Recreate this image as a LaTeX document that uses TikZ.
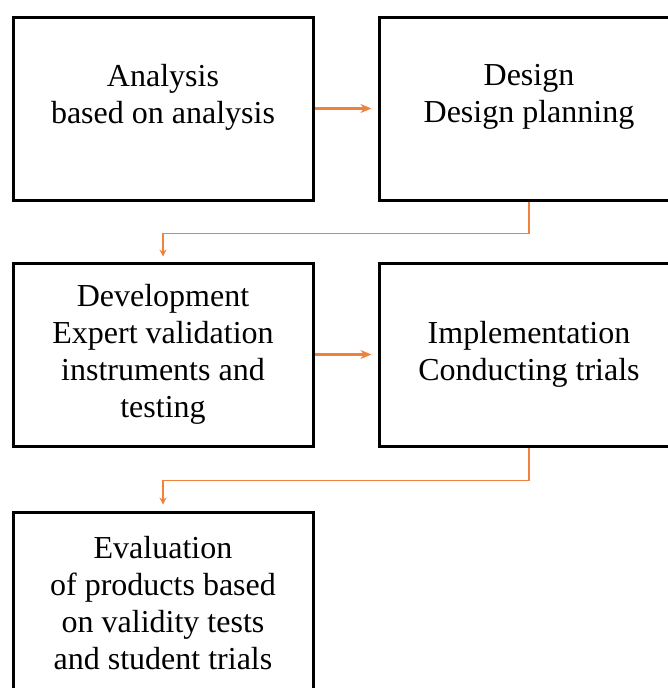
\documentclass[tikz,border=0pt]{standalone}
\usepackage{fontspec}
\setmainfont{Liberation Serif}
\usepackage{tikz}
\usetikzlibrary{arrows,arrows.meta}
\definecolor{flowor}{RGB}{240,130,60}

\begin{document}
\begin{tikzpicture}[>=stealth, node distance=366pt]
		\tikzstyle{phase} = [draw, line width=3pt, rectangle, minimum width=300pt, minimum height=183pt, inner sep=0pt, align=center, font=\fontsize{32}{37}\selectfont]
		\tikzstyle{flow} = [-{Stealth[length=11pt,width=9pt]}, flowor, line width=2.4pt]
		\tikzstyle{turn} = [-{Stealth[length=7pt,width=7pt]}, flowor, line width=1.8pt]

		\useasboundingbox (0,0) rectangle (667pt,-688pt);

		\begin{scope}
		\path
		node[phase, text depth=30pt] at (163pt,-108.5pt) (analysis) {Analysis\\based on analysis}
		node[phase, text depth=30pt, right of=analysis] (design) {Design\\Design planning}

		node[phase, below of=analysis, yshift=120pt] (develop) {Development\\Expert validation\\instruments and\\testing}
		node[phase, right of=develop] (implement) {Implementation\\Conducting trials}

		node[phase, below of=develop, yshift=117pt] (evaluate) {Evaluation\\of products based\\on validity tests\\and student trials}
		;

		\draw[flow, shorten >=6pt] (analysis) -- (design);
		\draw[flow, shorten >=6pt] (develop) -- (implement);
		\draw[turn, shorten >=5pt] (design.south) -- ++(0,-32pt) -| (develop.north);
		\draw[turn, shorten >=6pt] (implement.south) -- ++(0,-33pt) -| (evaluate.north);
		\end{scope}
		\end{tikzpicture}
\end{document}
